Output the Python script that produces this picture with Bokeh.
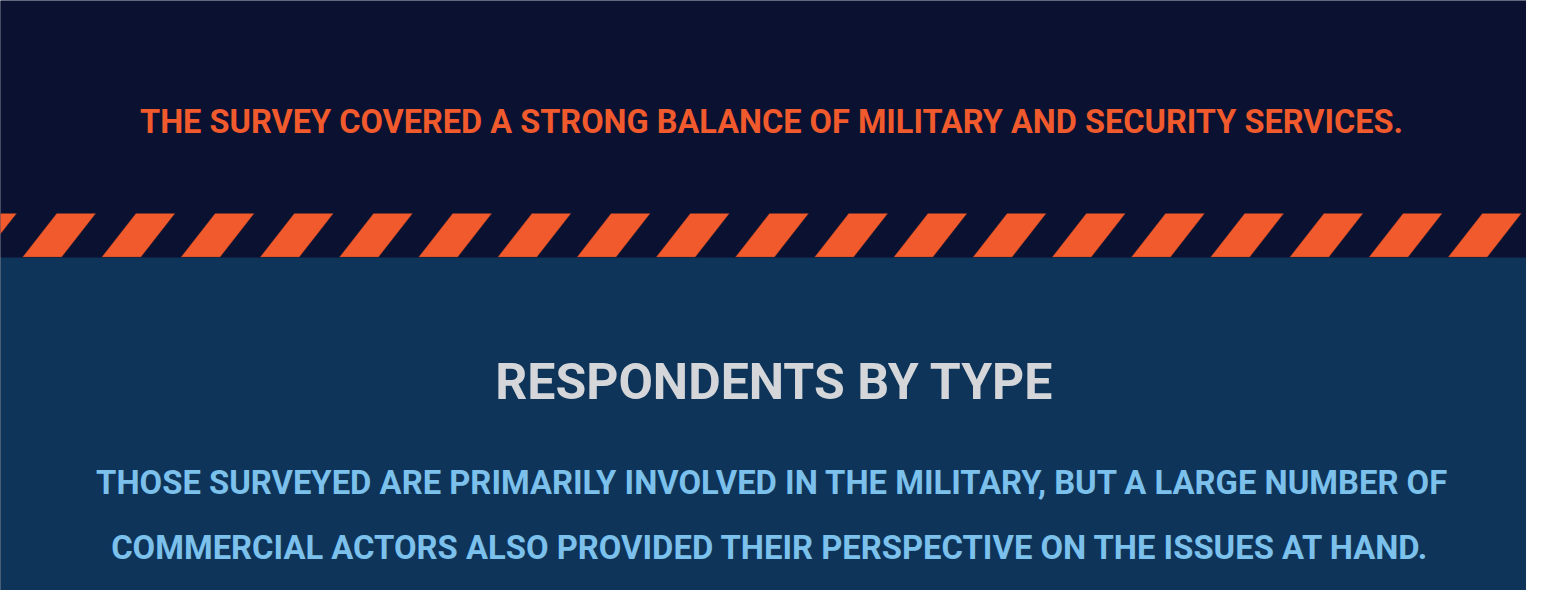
from bokeh.plotting import figure
from bokeh.models import Range1d
from bokeh.embed import file_html
from bokeh.resources import INLINE
from bokeh.core.properties import value

# ---- content ----
header_text = ["THE SURVEY COVERED A STRONG BALANCE OF MILITARY AND SECURITY SERVICES."]
title_text = ["RESPONDENTS BY TYPE"]
subtitle_lines = [
    "THOSE SURVEYED ARE PRIMARILY INVOLVED IN THE MILITARY, BUT A LARGE NUMBER OF",
    "COMMERCIAL ACTORS ALSO PROVIDED THEIR PERSPECTIVE ON THE ISSUES AT HAND.",
]

# ---- geometry (pixel coordinates from the top-left corner) ----
FIG_W, FIG_H = 1526, 590
band_top = [0, 257]
band_bottom = [257, 620]
band_colors = ["#0B1131", "#0E3559"]

stripe_top, stripe_bottom = 213, 256.5
stripe_start = -23.0
stripe_period = 79.2
stripe_width = 39.0
stripe_slant = 34.0

FONT = "Roboto"
ORANGE = "#F15A2C"
TITLE_GREY = "#D5D6D9"
SUB_BLUE = "#7CC0EC"

p = figure(width=FIG_W, height=FIG_H,
           x_range=Range1d(0, FIG_W), y_range=Range1d(FIG_H, 0),
           output_backend="svg", toolbar_location=None,
           min_border=0, background_fill_color=band_colors[0],
           border_fill_color=band_colors[0], outline_line_color=None)
p.axis.visible = False
p.grid.visible = False

# background bands
p.quad(left=[-10, -10], right=[FIG_W + 20, FIG_W + 20], top=band_top, bottom=band_bottom,
       fill_color=band_colors, line_color=None)

# hazard stripes
xs, ys = [], []
x0 = stripe_start
while x0 < FIG_W + stripe_slant + stripe_width:
    xs.append([x0, x0 + stripe_width, x0 + stripe_width - stripe_slant, x0 - stripe_slant])
    ys.append([stripe_top, stripe_top, stripe_bottom, stripe_bottom])
    x0 += stripe_period
p.patches(xs=xs, ys=ys, fill_color=ORANGE, line_color="#7a3525", line_width=0.6, line_alpha=0.6)

cx = 771

p.text(x=[cx], y=[121.5], text=header_text, text_font=value(FONT), text_font_style="bold",
       text_font_size="32.5px", text_color=ORANGE, text_align="center", text_baseline="alphabetic")
p.text(x=[cx + 3], y=[381], text=title_text, text_font=value(FONT), text_font_style="bold",
       text_font_size="50px", text_color=TITLE_GREY, text_align="center", text_baseline="alphabetic")
p.text(x=[cx + 1, cx - 1], y=[482, 547], text=subtitle_lines, text_font=value(FONT), text_font_style="bold",
       text_font_size="32.8px", text_color=SUB_BLUE, text_align="center", text_baseline="alphabetic")

open("out.html", "w").write(file_html(p, INLINE))
